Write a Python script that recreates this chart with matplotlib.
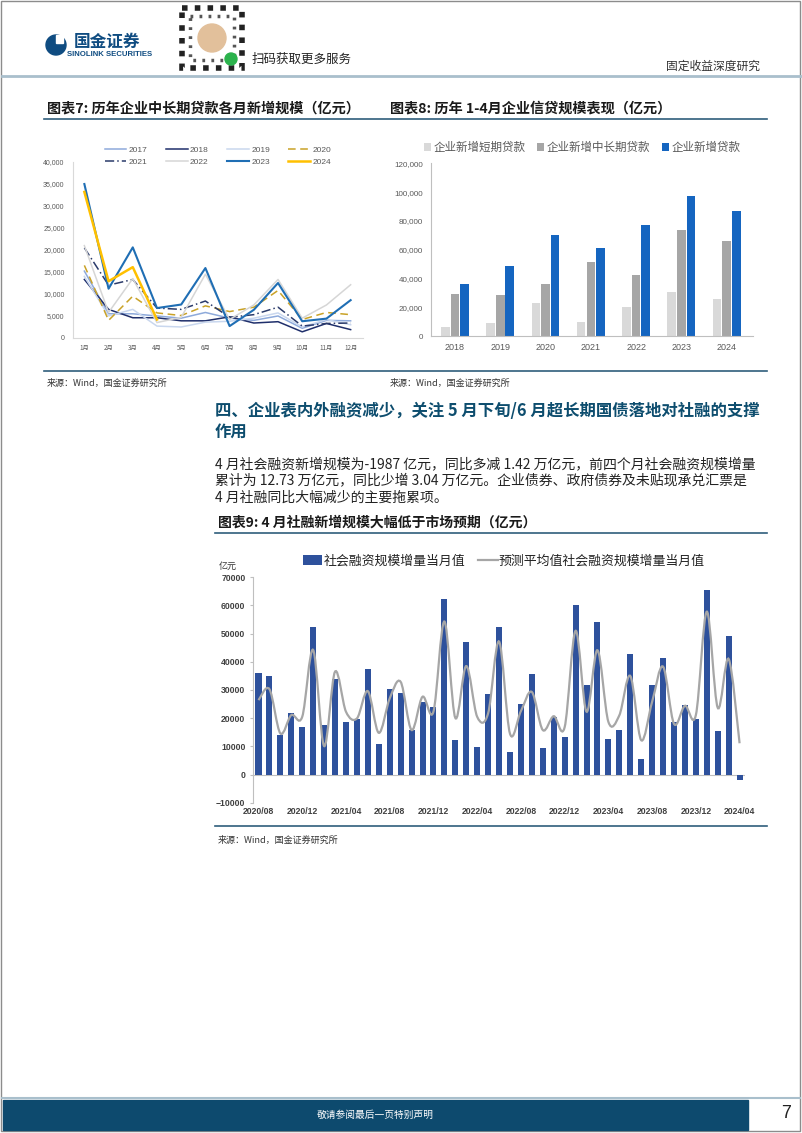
import numpy as np
import pandas as pd
import matplotlib
matplotlib.use('Agg')
import matplotlib.pyplot as plt
from matplotlib.path import Path
from matplotlib.patches import PathPatch, Rectangle, Circle
from matplotlib.lines import Line2D
from matplotlib.ticker import FuncFormatter

CJK = ['Noto Sans CJK SC', 'DejaVu Sans']
NUM = ['Liberation Sans', 'DejaVu Sans']
plt.rcParams['font.family'] = CJK

# ---- chart 7: monthly new mid/long-term corporate loans (100m yuan)
months7 = ['1月', '2月', '3月', '4月', '5月', '6月', '7月', '8月', '9月', '10月', '11月', '12月']
y2017 = [15200, 5500, 5500, 5000, 4500, 5800, 4500, 4000, 5000, 2200, 4000, 3900]
y2018 = [13300, 6500, 4600, 4600, 3900, 3900, 4800, 3400, 3700, 1400, 3300, 1900]
y2019 = [14000, 5000, 6500, 2700, 2500, 3600, 3800, 4500, 5700, 2500, 4200, 3000]
y2020 = [16500, 4000, 9500, 5700, 5100, 7300, 6000, 7000, 10800, 4200, 5800, 5300]
y2021 = [20500, 12000, 13300, 6800, 6500, 8400, 4700, 5300, 7000, 2700, 3300, 3400]
y2022 = [21000, 5800, 13500, 3500, 4700, 14500, 4200, 7500, 13300, 4500, 7500, 12100]
y2023 = [35000, 11200, 20600, 6800, 7600, 15900, 2700, 6400, 12500, 3800, 4400, 8600]
y2024 = [33200, 12900, 16100, 4200]

# ---- chart 8: Jan-Apr corporate loans by year
years8 = ['2018', '2019', '2020', '2021', '2022', '2023', '2024']
short_loans = [6000, 8800, 22900, 9700, 19900, 30600, 25500]
long_loans = [29200, 28300, 35900, 51700, 42200, 73500, 66000]
total_loans = [36400, 48400, 70200, 61200, 76900, 97100, 86700]

# ---- chart 9: monthly TSF vs consensus forecast
months9 = [p.strftime('%Y/%m') for p in pd.period_range('2020-08', '2024-04', freq='M')]
tsf = [36000, 35000, 14200, 21700, 16800, 52300, 17500, 33900, 18700, 19700,
       37400, 10900, 30200, 29100, 15800, 25800, 23800, 62200, 12400, 46900,
       9600, 28700, 52300, 8100, 24900, 35700, 9300, 20400, 13200, 60100,
       31800, 54100, 12500, 15900, 42600, 5600, 31600, 41400, 18800, 24800,
       19600, 65500, 15500, 49000, -1987]
tsf_fc = [26400, 30300, 14600, 21100, 20500, 44200, 10100, 36500, 22300, 19900,
          29600, 14800, 27000, 32900, 15800, 27600, 22300, 54300, 20100, 38500,
          20500, 21700, 47200, 14500, 22500, 29300, 15800, 20700, 16800, 51000,
          22300, 44100, 18700, 21000, 35000, 12200, 25800, 38300, 18000, 24400,
          21100, 57800, 23700, 41000, 11100]

fig = plt.figure(figsize=(8.02, 11.33), dpi=100)

# page overlay in pixel coordinates
ax0 = fig.add_axes([0, 0, 1, 1], zorder=-1)
ax0.set_xlim(0, 802)
ax0.set_ylim(1133, 0)
ax0.axis('off')

teal = '#2f5d7c'
ax0.add_patch(Rectangle((1, 1), 799, 1130, fill=False, ec='#8c8c8c', lw=1))
# header
ax0.add_patch(Circle((56, 45), 10, color='#0f4c81'))
ax0.add_patch(Rectangle((56, 35), 7, 8, color='white'))
ax0.text(74, 42, '国金证券', fontsize=12, fontweight='bold', color='#0f4c81', va='center')
ax0.text(67, 54.5, 'SINOLINK SECURITIES', fontsize=5.6, fontweight='bold', color='#0f4c81',
         va='center', family=NUM)
ax0.add_patch(Rectangle((182, 8), 60, 60, fill=False, ec='#222222', lw=4, ls=(0, (1, 1.3))))
ax0.add_patch(Rectangle((190, 16), 44, 44, fill=False, ec='#555555', lw=2.5, ls=(0, (0.8, 1.8))))
ax0.add_patch(Circle((212, 38), 14, color='#e2c09b'))
ax0.add_patch(Circle((231, 59), 6, color='#2bb24c'))
ax0.text(252, 59, '扫码获取更多服务', fontsize=9, color='#222222', va='center')
ax0.text(760, 66, '固定收益深度研究', fontsize=8.5, color='#333333', va='center', ha='right')
ax0.plot([2, 800], [76, 76], color='#a9bfcc', lw=2)

# chart titles
ax0.text(47, 109, '图表7: 历年企业中长期贷款各月新增规模（亿元）', fontsize=10.2,
         fontweight='bold', color='#1a1a1a', va='center')
ax0.text(390, 109, '图表8: 历年 1-4月企业信贷规模表现（亿元）', fontsize=10.2,
         fontweight='bold', color='#1a1a1a', va='center')
ax0.plot([44, 767], [119, 119], color=teal, lw=1.2)
ax0.plot([44, 767], [371, 371], color=teal, lw=1.2)
ax0.text(47, 383, '来源：Wind，国金证券研究所', fontsize=6.5, color='#333333', va='center')
ax0.text(390, 383, '来源：Wind，国金证券研究所', fontsize=6.5, color='#333333', va='center')

# section heading and body
head_c = '#0d4d6e'
ax0.text(215, 411, '四、企业表内外融资减少，关注 5 月下旬/6 月超长期国债落地对社融的支撑',
         fontsize=11.8, fontweight='bold', color=head_c, va='center')
ax0.text(215, 432, '作用', fontsize=11.8, fontweight='bold', color=head_c, va='center')
body = ['4 月社会融资新增规模为-1987 亿元，同比多减 1.42 万亿元，前四个月社会融资规模增量',
        '累计为 12.73 万亿元，同比少增 3.04 万亿元。企业债券、政府债券及未贴现承兑汇票是',
        '4 月社融同比大幅减少的主要拖累项。']
for i, line in enumerate(body):
    ax0.text(215, 464 + i * 16.7, line, fontsize=10, color='#222222', va='center')

ax0.text(218, 523, '图表9: 4 月社融新增规模大幅低于市场预期（亿元）', fontsize=10,
         fontweight='bold', color='#1a1a1a', va='center')
ax0.plot([215, 767], [533, 533], color=teal, lw=1.2)
ax0.plot([215, 767], [826, 826], color=teal, lw=1.2)
ax0.text(218, 840, '来源：Wind，国金证券研究所', fontsize=6.5, color='#333333', va='center')
ax0.text(228, 566, '亿元', fontsize=6.5, color='#333333', va='center', ha='center')

# footer
ax0.plot([2, 800], [1098, 1098], color='#a9bfcc', lw=1.5)
ax0.add_patch(Rectangle((3, 1100), 745, 30, color='#0d4a6e'))
ax0.text(375, 1115, '敬请参阅最后一页特别声明', fontsize=7, color='white', va='center', ha='center')
ax0.text(786, 1114, '7', fontsize=13, color='#222222', va='center', ha='center', family=NUM)

thousands = FuncFormatter(lambda v, p: f'{v:,.0f}')

# ---------------- chart 7
ax7 = fig.add_axes([0.091, 0.7017, 0.3616, 0.1553])
x7 = np.arange(1, 13)
styles = [
    ('2017', y2017, '#8eaadb', '-', 1.1),
    ('2018', y2018, '#1f2f6b', '-', 1.1),
    ('2019', y2019, '#c9d7ee', '-', 1.1),
    ('2020', y2020, '#c9a227', (0, (5, 3)), 1.1),
    ('2021', y2021, '#2a3a6a', (0, (6, 2, 1, 2)), 1.1),
    ('2022', y2022, '#d6d6d6', '-', 1.1),
    ('2023', y2023, '#1f6eb4', '-', 1.5),
    ('2024', y2024, '#ffc000', '-', 1.8),
]
handles7 = []
for name, vals, c, ls, lw in styles:
    h, = ax7.plot(x7[:len(vals)], vals, color=c, ls=ls, lw=lw, label=name)
    handles7.append(h)
ax7.set_xlim(0.53, 12.51)
ax7.set_ylim(0, 40000)
ax7.set_yticks(np.arange(0, 40001, 5000))
ax7.yaxis.set_major_formatter(thousands)
ax7.set_xticks(x7)
ax7.set_xticklabels(months7, fontsize=4.5, color='#595959')
for t in ax7.get_yticklabels():
    t.set_fontsize(5)
    t.set_color('#595959')
    t.set_family(NUM)
ax7.tick_params(length=0, pad=6)
ax7.tick_params(axis='x', pad=4)
for s in ['top', 'right']:
    ax7.spines[s].set_visible(False)
for s in ['left', 'bottom']:
    ax7.spines[s].set_color('#d9d9d9')
    ax7.spines[s].set_linewidth(0.8)
# row-wise order for a 2x4 legend
order7 = [0, 4, 1, 5, 2, 6, 3, 7]
leg7 = ax7.legend([handles7[i] for i in order7], [styles[i][0] for i in order7],
                  loc='center', bbox_to_anchor=(0.5, 1.035), ncol=4, frameon=False,
                  fontsize=6, handlelength=2.6, columnspacing=2.2, handletextpad=0.3,
                  labelspacing=0.5)
for t in leg7.get_texts():
    t.set_color('#595959')
    t.set_family(NUM)

# ---------------- chart 8
ax8 = fig.add_axes([0.5374, 0.7034, 0.4015, 0.1525])
x8 = np.arange(len(years8))
bw = 0.19
ax8.bar(x8 - 0.215, short_loans, bw, color='#d9d9d9', label='企业新增短期贷款')
ax8.bar(x8, long_loans, bw, color='#a6a6a6', label='企业新增中长期贷款')
ax8.bar(x8 + 0.21, total_loans, bw, color='#1565c0', label='企业新增贷款')
ax8.set_xlim(-0.53, 6.58)
ax8.set_ylim(0, 120000)
ax8.set_yticks(np.arange(0, 120001, 20000))
ax8.yaxis.set_major_formatter(thousands)
ax8.set_xticks(x8)
ax8.set_xticklabels(years8, fontsize=6.5, color='#595959', family=NUM)
for t in ax8.get_yticklabels():
    t.set_fontsize(5.8)
    t.set_color('#595959')
    t.set_family(NUM)
ax8.tick_params(length=0, pad=6)
ax8.tick_params(axis='x', pad=5)
for s in ['top', 'right']:
    ax8.spines[s].set_visible(False)
for s in ['left', 'bottom']:
    ax8.spines[s].set_color('#bfbfbf')
    ax8.spines[s].set_linewidth(0.8)
leg8 = ax8.legend(loc='center', bbox_to_anchor=(0.47, 1.09), ncol=3, frameon=False,
                  fontsize=8.3, handlelength=0.6, handleheight=0.6, handletextpad=0.25,
                  columnspacing=1.0)
for t in leg8.get_texts():
    t.set_color('#595959')

# ---------------- chart 9
ax9 = fig.add_axes([0.3155, 0.2915, 0.6135, 0.199])
x9 = np.arange(len(tsf))
bars9 = ax9.bar(x9, tsf, 0.55, color='#2e519c', zorder=2)


def smooth_path(xs, ys):
    p = np.column_stack([xs, ys]).astype(float)
    pad = np.vstack([p[0], p, p[-1]])
    verts = [p[0]]
    codes = [Path.MOVETO]
    for i in range(len(p) - 1):
        c1 = pad[i + 1] + (pad[i + 2] - pad[i]) / 6
        c2 = pad[i + 2] - (pad[i + 3] - pad[i + 1]) / 6
        verts += [c1, c2, p[i + 1]]
        codes += [Path.CURVE4] * 3
    return Path(verts, codes)


ax9.add_patch(PathPatch(smooth_path(x9, tsf_fc), fill=False, ec='#a6a6a6', lw=1.6, zorder=3))
fc_handle = Line2D([], [], color='#a6a6a6', lw=1.6)
ax9.axhline(0, color='#bfbfbf', lw=0.8, zorder=1)
ax9.set_xlim(-0.5, 44.5)
ax9.set_ylim(-10000, 70000)
ax9.set_yticks(np.arange(-10000, 70001, 10000))
ax9.set_xticks(x9[::4])
ax9.set_xticklabels(months9[::4], fontsize=6.2, color='#404040', family=NUM, fontweight='bold')
for t in ax9.get_yticklabels():
    t.set_fontsize(6.2)
    t.set_color('#404040')
    t.set_family(NUM)
    t.set_fontweight('bold')
ax9.tick_params(axis='y', length=2.5, color='#bfbfbf', pad=3)
ax9.tick_params(axis='x', length=0, pad=3)
for s in ['top', 'right', 'bottom']:
    ax9.spines[s].set_visible(False)
ax9.spines['left'].set_color('#bfbfbf')
ax9.spines['left'].set_linewidth(0.8)
leg9 = ax9.legend([bars9, fc_handle], ['社会融资规模增量当月值', '预测平均值社会融资规模增量当月值'],
                  loc='center', bbox_to_anchor=(0.51, 1.072), ncol=2, frameon=False,
                  fontsize=9.3, handlelength=1.5, handleheight=0.7, handletextpad=0.1,
                  columnspacing=1.0)
for t in leg9.get_texts():
    t.set_color('#222222')

fig.savefig('out.png', dpi=100)
